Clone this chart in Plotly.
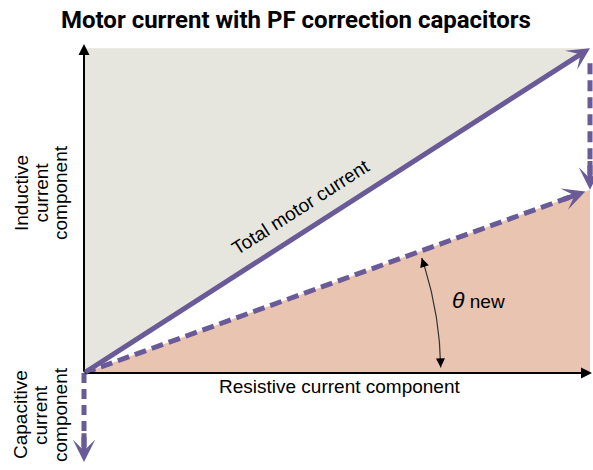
import numpy as np
import plotly.graph_objects as go

# ---- data (diagram values, arbitrary units) ----
resistive = 10.0          # resistive current component
inductive = 6.42          # inductive component before correction
inductive_new = 3.62      # inductive component after PF correction
capacitive_axis = 1.76    # length of capacitive component axis arrow
arc_radius = 7.05         # radius of theta arc

title_text = "Motor current with PF correction capacitors"
total_label = "Total motor current"
x_label = "Resistive current component"
y_label_lines = ["Inductive", "current", "component"]
cap_label_lines = ["Capacitive", "current", "component"]
theta_label = "<i><span style='font-size:23px'>θ</span></i> new"

# ---- styling / layout ----
W, H = 593, 470
PX = 50.6                     # pixels per unit
ox, oy = 84, 373              # origin in figure pixels
xr = [-ox / PX, (W - ox) / PX]
yr = [(oy - H) / PX, oy / PX]

PURPLE = "#6A5A97"
GRAY = "#E6E6DF"
PEACH = "#E8C4B1"
FONT = "Liberation Sans, Arial, sans-serif"
FS = 19


def pp(wx, wy):
    """figure pixel -> paper coords"""
    return wx / W, 1 - wy / H


fig = go.Figure()

# gray region above total current
fig.add_trace(go.Scatter(x=[0, 0, resistive, 0], y=[0, inductive, inductive, 0],
                         fill="toself", fillcolor=GRAY, line=dict(width=0),
                         mode="lines", hoverinfo="skip", showlegend=False))
# peach region below new current
fig.add_trace(go.Scatter(x=[0, resistive, resistive, 0], y=[0, inductive_new, 0, 0],
                         fill="toself", fillcolor=PEACH, line=dict(width=0),
                         mode="lines", hoverinfo="skip", showlegend=False))

# dashed new total current
ang_new = np.arctan2(inductive_new, resistive)
fig.add_trace(go.Scatter(x=[0, resistive - 0.4 * np.cos(ang_new)],
                         y=[0, inductive_new - 0.4 * np.sin(ang_new)],
                         mode="lines", line=dict(color=PURPLE, width=5, dash="12px,6px"),
                         hoverinfo="skip", showlegend=False))
# dashed capacitive shift at right
fig.add_trace(go.Scatter(x=[resistive, resistive], y=[inductive - 0.3, inductive_new + 0.3],
                         mode="lines", line=dict(color=PURPLE, width=5, dash="11px,6px"),
                         hoverinfo="skip", showlegend=False))
# dashed capacitive axis at bottom
fig.add_trace(go.Scatter(x=[0, 0], y=[0, -capacitive_axis + 0.3],
                         mode="lines", line=dict(color=PURPLE, width=5, dash="10px,6px"),
                         hoverinfo="skip", showlegend=False))

# theta arc
t = np.linspace(np.radians(0.9), ang_new - np.radians(1.1), 60)
fig.add_trace(go.Scatter(x=arc_radius * np.cos(t), y=arc_radius * np.sin(t),
                         mode="lines", line=dict(color="#333333", width=1.2),
                         hoverinfo="skip", showlegend=False))

annotations = []


def arrow(x, y, ax, ay, color, width, head=3, size=0.75, standoff=0):
    annotations.append(dict(x=x, y=y, ax=ax, ay=ay, xref="x", yref="y", axref="x", ayref="y",
                            showarrow=True, arrowhead=head, arrowsize=size, arrowwidth=width,
                            arrowcolor=color, standoff=standoff, text=""))


# axes (black)
arrow(resistive + 0.04, 0, 0, 0, "black", 2, head=2, size=1.1)
arrow(0, inductive + 0.08, 0, 0, "black", 2, head=2, size=1.1)
# total motor current (solid)
arrow(resistive, inductive, 0, 0, PURPLE, 5, head=3, size=0.75)
# arrowheads for dashed vectors
arrow(resistive, inductive_new, resistive - 0.6 * np.cos(ang_new), inductive_new - 0.6 * np.sin(ang_new),
      PURPLE, 5, head=3, size=0.75, standoff=5)
arrow(resistive, inductive_new, resistive, inductive_new + 0.6, PURPLE, 5, head=3, size=0.75)
arrow(0, -capacitive_axis, 0, -capacitive_axis + 0.6, PURPLE, 5, head=3, size=0.75)
# theta arc arrowheads
arrow(arc_radius * np.cos(t[-1]), arc_radius * np.sin(t[-1]),
      arc_radius * np.cos(t[-4]), arc_radius * np.sin(t[-4]), "black", 1.2, head=2, size=1.5)
arrow(arc_radius * np.cos(t[0]), arc_radius * np.sin(t[0]),
      arc_radius * np.cos(t[3]), arc_radius * np.sin(t[3]), "black", 1.2, head=2, size=1.5)

ang_tot = np.degrees(np.arctan2(inductive, resistive))


def label(text, wx, wy, size=FS, angle=0, family=FONT, weight="normal"):
    px_, py_ = pp(wx, wy)
    annotations.append(dict(text=text, x=px_, y=py_, xref="paper", yref="paper",
                            xanchor="center", yanchor="middle", showarrow=False,
                            textangle=angle,
                            font=dict(family=family, size=size, color="black", weight=weight)))


label(title_text, 296, 20, size=24, family="Roboto, Liberation Sans, Arial, sans-serif", weight="bold")
label(total_label, 300, 207, angle=-ang_tot)
label(x_label, 339, 386)
for i, line in enumerate(y_label_lines):
    label(line, 21 + 19.5 * i, 193, angle=-90)
for i, line in enumerate(cap_label_lines):
    label(line, 20 + 20 * i, 415, angle=-90)
label(theta_label, 478, 300)

fig.update_layout(width=W, height=H, margin=dict(l=0, r=0, t=0, b=0),
                  paper_bgcolor="white", plot_bgcolor="white",
                  xaxis=dict(range=xr, visible=False, fixedrange=True),
                  yaxis=dict(range=yr, visible=False, fixedrange=True),
                  annotations=annotations, showlegend=False, hovermode=False)

fig.write_html("out.html",
               config={"displayModeBar": False, "staticPlot": True},
               post_script="document.body.style.margin='0px';document.body.style.overflow='hidden';")
